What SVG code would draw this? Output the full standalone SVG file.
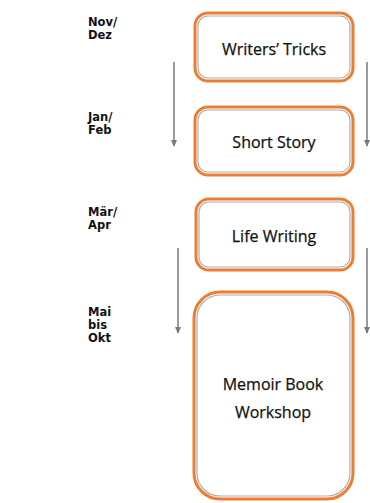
<svg xmlns="http://www.w3.org/2000/svg" width="370" height="503" viewBox="0 0 370 503">
<style>
.box{fill:#fff;stroke:#ED7D31;stroke-width:3}
.inner{fill:none;stroke:#8a8a8a;stroke-width:1.2;opacity:0.7}
.lbl{font-family:"Open Sans","Liberation Sans",sans-serif;font-size:16px;fill:#111;text-anchor:middle;stroke:#111;stroke-width:0.25}
.mon{font-family:"DejaVu Sans","Liberation Sans",sans-serif;font-weight:bold;font-size:11.5px;fill:#111}
.arr{stroke:#7a7a7a;stroke-width:1.5;fill:none;marker-end:url(#ah)}
</style>
<defs>
<marker id="ah" viewBox="0 0 10 10" refX="8" refY="5" markerWidth="5" markerHeight="5" orient="auto" markerUnits="strokeWidth">
<path d="M0,1 L9,5 L0,9 z" fill="#7a7a7a"/>
</marker>
</defs>
<rect width="370" height="503" fill="#fff"/>
<g id="labels">
<text class="mon" x="88" y="26">Nov/</text>
<text class="mon" x="88" y="39">Dez</text>
<text class="mon" x="88" y="121">Jan/</text>
<text class="mon" x="88" y="134">Feb</text>
<text class="mon" x="88" y="216">Mär/</text>
<text class="mon" x="88" y="229">Apr</text>
<text class="mon" x="88" y="316">Mai</text>
<text class="mon" x="88" y="329">bis</text>
<text class="mon" x="88" y="342">Okt</text>
</g>
<g id="connectors">
<line class="arr" x1="174" y1="62" x2="174" y2="146"/>
<line class="arr" x1="367" y1="62" x2="367" y2="146"/>
<line class="arr" x1="178" y1="248" x2="178" y2="333"/>
<line class="arr" x1="367" y1="248" x2="367" y2="333"/>
</g>
<g id="n1">
<rect class="box" x="195" y="13" width="158" height="68" rx="13"/>
<rect class="inner" x="198" y="16" width="152" height="62" rx="10"/>
<text class="lbl" x="274" y="55">Writers’ Tricks</text>
</g>
<g id="n2">
<rect class="box" x="195" y="107" width="158" height="68" rx="13"/>
<rect class="inner" x="198" y="110" width="152" height="62" rx="10"/>
<text class="lbl" x="274" y="148">Short Story</text>
</g>
<g id="n3">
<rect class="box" x="196" y="199" width="157" height="71" rx="13"/>
<rect class="inner" x="199" y="202" width="151" height="65" rx="10"/>
<text class="lbl" x="274" y="242">Life Writing</text>
</g>
<g id="n4">
<rect class="box" x="194" y="292" width="159" height="207" rx="26"/>
<rect class="inner" x="197" y="295" width="153" height="201" rx="23"/>
<text class="lbl" x="273" y="390">Memoir Book</text>
<text class="lbl" x="273" y="418">Workshop</text>
</g>
</svg>
